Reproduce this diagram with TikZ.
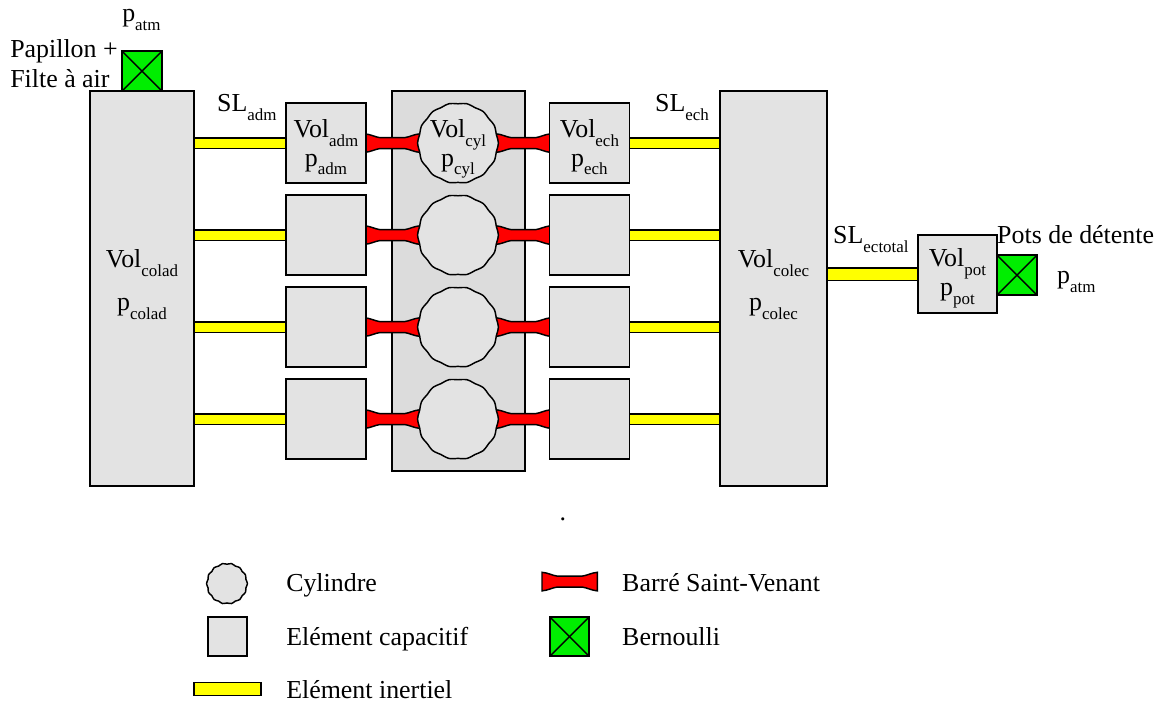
\documentclass[tikz,border=0pt]{standalone}
\usepackage{xcolor}
\usepackage{fontspec}
\setmainfont{Liberation Serif}
\usepackage{tikz}
\usetikzlibrary{calc}
\definecolor{volgray}{RGB}{227,227,227}
\definecolor{blockgray}{RGB}{220,220,220}
\definecolor{bernoulligreen}{RGB}{0,238,0}
\definecolor{inertyellow}{RGB}{255,255,0}
\definecolor{barrered}{RGB}{255,0,0}
\newcommand{\indice}[1]{\smash{\raisebox{-6.75pt}{\fontsize{12.75pt}{14pt}\selectfont #1}}}
\pgfdeclarelayer{blocklayer}
\pgfdeclarelayer{linklayer}
\pgfsetlayers{blocklayer,linklayer,main}
\tikzset{
  txt/.style={anchor=base west, inner sep=0pt, font=\fontsize{19.5pt}{24.75pt}\selectfont},
  capa/.style={rectangle, draw=black, fill=volgray, line width=1.1pt,
    minimum width=2.117cm, minimum height=2.117cm, inner sep=0pt, align=center,
    text height=34.5pt, text depth=0pt, font=\fontsize{19.5pt}{21.75pt}\selectfont},
  collector/.style={capa, minimum height=10.451cm,
    text height=32.25pt, font=\fontsize{19.5pt}{32.25pt}\selectfont},
  cylnode/.style={circle, minimum size=2*#1, inner sep=0pt, align=center,
    text height=34.5pt, text depth=0pt, font=\fontsize{19.5pt}{21.75pt}\selectfont,
    append after command={\pgfextra{\pgfinterruptpath
      \draw[fill=volgray, line width=1.1pt, shift={(\tikzlastnode.center)}]
        plot[smooth cycle, samples=56, domain=0:353.57] (\x:{#1+0.4pt*cos(14*\x)});
    \endpgfinterruptpath}}},
  bernoulli/.style={rectangle, draw=black, fill=bernoulligreen, line width=1.1pt,
    minimum size=1.058cm, inner sep=0pt,
    path picture={
      \draw[line width=1.1pt] (path picture bounding box.north west) -- (path picture bounding box.south east);
      \draw[line width=1.1pt] (path picture bounding box.north east) -- (path picture bounding box.south west);
    }},
  inertiel/.style={draw=black, line width=1.1pt, double=inertyellow, double distance=6.8pt},
  barre/.style={draw=black, fill=barrered, line width=1.1pt,
    to path={
      ($(\tikztostart)+(-1.5pt,7pt)$)
      .. controls ($(\tikztostart)!0.08!(\tikztotarget)+(0,6.6pt)$) and ($(\tikztostart)!0.16!(\tikztotarget)+(0,4.6pt)$) .. ($(\tikztostart)!0.26!(\tikztotarget)+(0,4.1pt)$)
      -- ($(\tikztostart)!0.74!(\tikztotarget)+(0,4.1pt)$)
      .. controls ($(\tikztostart)!0.84!(\tikztotarget)+(0,4.6pt)$) and ($(\tikztostart)!0.92!(\tikztotarget)+(0,6.6pt)$) .. ($(\tikztotarget)+(1.5pt,7pt)$)
      -- ($(\tikztotarget)+(1.5pt,-7pt)$)
      .. controls ($(\tikztostart)!0.92!(\tikztotarget)+(0,-6.6pt)$) and ($(\tikztostart)!0.84!(\tikztotarget)+(0,-4.6pt)$) .. ($(\tikztostart)!0.74!(\tikztotarget)+(0,-4.1pt)$)
      -- ($(\tikztostart)!0.26!(\tikztotarget)+(0,-4.1pt)$)
      .. controls ($(\tikztostart)!0.16!(\tikztotarget)+(0,-4.6pt)$) and ($(\tikztostart)!0.08!(\tikztotarget)+(0,-6.6pt)$) .. ($(\tikztostart)+(-1.5pt,-7pt)$)
      -- cycle
    }}
}

\begin{document}
\begin{tikzpicture}
  \useasboundingbox (0,0) rectangle (30.72,18.63);
  % Intake collector and throttle
  \node[collector, minimum width=2.752cm] (colad) at (3.757,10.993) {Vol\indice{colad}\\p\indice{colad}};
  \node[bernoulli] (papillon) at (3.757,16.748) {};
  \node[txt] (patmtop) at (3.228,18.070) {p\indice{atm}};
  \node[txt] (papillontxt) at (0.265,17.118) {Papillon +};
  \node[txt] (filtetxt) at (0.265,16.325) {Filte à air};
  \node[txt] (sladm) at (5.741,15.690) {SL\indice{adm}};
  % Engine block
  \begin{pgfonlayer}{blocklayer}
    \node[rectangle, draw=black, fill=blockgray, line width=1.1pt, minimum width=3.519cm, minimum height=10.054cm] (moteur) at (12.131,11.192) {};
  \end{pgfonlayer}
  % Intake volumes
  \node[capa] (adm1) at (8.625,14.843) {Vol\indice{adm}\\p\indice{adm}};
  \node[capa] (adm2) at (8.625,12.409) {};
  \node[capa] (adm3) at (8.625,9.975) {};
  \node[capa] (adm4) at (8.625,7.541) {};
  % Cylinders
  \node[cylnode=30pt] (cyl1) at (12.118,14.843) {Vol\indice{cyl}\\p\indice{cyl}};
  \node[cylnode=30pt] (cyl2) at (12.118,12.409) {};
  \node[cylnode=30pt] (cyl3) at (12.118,9.975) {};
  \node[cylnode=30pt] (cyl4) at (12.118,7.541) {};
  % Exhaust volumes
  \node[capa] (ech1) at (15.597,14.843) {Vol\indice{ech}\\p\indice{ech}};
  \node[capa] (ech2) at (15.597,12.409) {};
  \node[capa] (ech3) at (15.597,9.975) {};
  \node[capa] (ech4) at (15.597,7.541) {};
  % Exhaust collector and silencer
  \node[collector, minimum width=2.831cm] (colec) at (20.465,10.993) {Vol\indice{colec}\\p\indice{colec}};
  \node[capa, minimum width=2.09cm, minimum height=2.064cm, text height=32.25pt] (pot) at (25.333,11.377) {Vol\indice{pot}\\p\indice{pot}};
  \node[bernoulli] (sortie) at (26.908,11.350) {};
  \node[txt] (slech) at (17.330,15.690) {SL\indice{ech}};
  \node[txt] (slectotal) at (22.040,12.197) {SL\indice{ectotal}};
  \node[txt] (potstxt) at (26.379,12.197) {Pots de détente};
  \node[txt] (patmright) at (27.966,11.126) {p\indice{atm}};
  \node[txt] (point) at (14.803,4.868) {.};
  % Connectors
  \begin{pgfonlayer}{linklayer}
    \draw[inertiel] (adm1.west -| colad.east) -- (adm1.west);
    \draw[inertiel] (adm2.west -| colad.east) -- (adm2.west);
    \draw[inertiel] (adm3.west -| colad.east) -- (adm3.west);
    \draw[inertiel] (adm4.west -| colad.east) -- (adm4.west);
    \draw[barre] (adm1.east) to (cyl1.west);
    \draw[barre] (adm2.east) to (cyl2.west);
    \draw[barre] (adm3.east) to (cyl3.west);
    \draw[barre] (adm4.east) to (cyl4.west);
    \draw[barre] (cyl1.east) to (ech1.west);
    \draw[barre] (cyl2.east) to (ech2.west);
    \draw[barre] (cyl3.east) to (ech3.west);
    \draw[barre] (cyl4.east) to (ech4.west);
    \draw[inertiel] (ech1.east) -- (ech1.east -| colec.west);
    \draw[inertiel] (ech2.east) -- (ech2.east -| colec.west);
    \draw[inertiel] (ech3.east) -- (ech3.east -| colec.west);
    \draw[inertiel] (ech4.east) -- (ech4.east -| colec.west);
    \draw[inertiel, double distance=8.3pt] (pot.west -| colec.east) -- (pot.west);
  \end{pgfonlayer}
  % Legend
  \node[cylnode=15pt, text height=0pt, text depth=0pt] (legcyl) at (6.006,3.188) {};
  \node[capa, minimum width=1.032cm, minimum height=1.032cm, text height=0pt, text depth=0pt] (legcapa) at (6.019,1.786) {};
  \node[rectangle, draw=black, fill=inertyellow, line width=1.1pt, minimum width=1.773cm, minimum height=0.344cm, inner sep=0pt] (leginert) at (6.019,0.397) {};
  \coordinate (legbarreA) at (14.394,3.241);
  \coordinate (legbarreB) at (15.755,3.241);
  \draw[barre] (legbarreA) to (legbarreB);
  \node[bernoulli, minimum size=1.032cm] (legbern) at (15.068,1.786) {};
  \node[txt] (legcyltxt) at (7.567,2.971) {Cylindre};
  \node[txt] (legcapatxt) at (7.567,1.543) {Elément capacitif};
  \node[txt] (leginerttxt) at (7.567,0.159) {Elément inertiel};
  \node[txt] (legbarretxt) at (16.457,2.971) {Barré Saint-Venant};
  \node[txt] (legberntxt) at (16.457,1.543) {Bernoulli};
\end{tikzpicture}
\end{document}
